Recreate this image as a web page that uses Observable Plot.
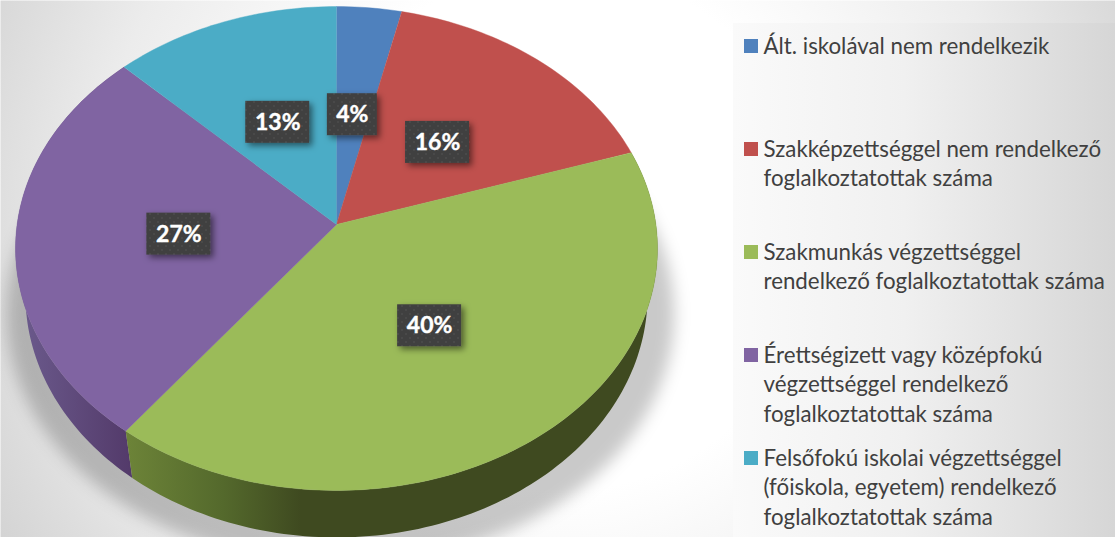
<!DOCTYPE html>
<html lang="hu">
<head>
<meta charset="utf-8">
<title>Foglalkoztatottak végzettség szerint</title>
<script src="https://cdn.jsdelivr.net/npm/d3@7"></script>
<script src="https://cdn.jsdelivr.net/npm/@observablehq/plot@0.6"></script>
<style>
  html, body { margin: 0; padding: 0; background: #fff; overflow: hidden; }
</style>
</head>
<body>
<div id="chart"></div>
<script>
// ---- data ----
const categories = [
  "Ált. iskolával nem rendelkezik",
  "Szakképzettséggel nem rendelkező\nfoglalkoztatottak száma",
  "Szakmunkás végzettséggel\nrendelkező foglalkoztatottak száma",
  "Érettségizett vagy középfokú\nvégzettséggel rendelkező\nfoglalkoztatottak száma",
  "Felsőfokú iskolai végzettséggel\n(főiskola, egyetem) rendelkező\nfoglalkoztatottak száma"
];
const shares = [3.6, 16.4, 40.4, 27.0, 12.6];
const shareLabels = ["4%", "16%", "40%", "27%", "13%"];
const colors = ["#4f81bd", "#c0504d", "#9bbb59", "#8064a2", "#4bacc6"];
const legendRows = [46, 149, 252, 355, 458];

// ---- geometry: unit pie seen in perspective, in the x/y scales' units ----
const K = 0.0992, APEX = -0.0992, AX = 0.995, AY = 0.99;
const DEPTH = 0.194, BOTTOM_X = 0.969;
const turn = p => (p / 100) * 2 * Math.PI;
function project(pct, r = 1, sx = 1, dy = 0) {
  const X = r * Math.sin(turn(pct)), Y = -r * Math.cos(turn(pct)), w = 1 - K * Y;
  return {x: sx * AX * X / w, y: APEX + AY * Y / w + dy};
}
function arc(from, to, sx = 1, dy = 0) {
  const n = Math.max(2, Math.ceil((to - from) * 3)), pts = [];
  for (let i = 0; i <= n; ++i) pts.push(project(from + (to - from) * i / n, 1, sx, dy));
  return pts;
}
const px = v => (v - 336) / 321;
const py = v => (v - 248) / 242;

const ends = d3.cumsum(shares);
const slices = categories.flatMap((name, i) => {
  const a = i ? ends[i - 1] : 0, b = ends[i];
  return [project(0, 0), ...arc(a, b)].map(p => ({...p, name}));
});
const wall = i => {
  const a = ends[i - 1], b = ends[i];
  return [...arc(a, b), ...arc(a, b, BOTTOM_X, DEPTH).reverse()];
};
const shadow = arc(0, 100).map(p => ({x: p.x * 1.04 + 0.012, y: p.y * 1.035 + 0.27}));

const badges = categories.map((name, i) => {
  const a = i ? ends[i - 1] : 0, mid = (a + ends[i]) / 2;
  const p = project(mid, 0.49);
  return {
    x: p.x - 1 / 321, y: p.y + 1.5 / 242,
    label: shareLabels[i],
    hw: (shareLabels[i].length === 2 ? 25 : 32) / 321, hh: 21 / 242
  };
});
const legend = categories.map((name, i) => ({name, row: legendRows[i]}));

const chart = Plot.plot({
  width: 1115,
  height: 537,
  margin: 0,
  x: {domain: [-1, 1], range: [15, 657], axis: null},
  y: {domain: [-1, 1], range: [6, 490], axis: null},
  color: {domain: categories, range: colors},
  style: {background: "transparent", fontFamily: "Lato, sans-serif"},
  marks: [
    Plot.frame({fill: "url(#bg)", stroke: "none"}),
    Plot.rect([0], {x1: px(733), x2: px(1115), y1: py(23), y2: py(537), fill: "url(#panel)"}),
    Plot.line(shadow, {x: "x", y: "y", fill: "#000", fillOpacity: 0.21, stroke: "none", ariaDescription: "shadow"}),
    Plot.line(wall(3), {x: "x", y: "y", fill: "url(#wallPurple)", stroke: "none"}),
    Plot.line(wall(2), {x: "x", y: "y", fill: "url(#wallGreen)", stroke: "none"}),
    Plot.line(slices, {x: "x", y: "y", fill: "name", stroke: "name", strokeWidth: 0.4}),
    Plot.rect(badges, {
      x1: d => d.x - d.hw, x2: d => d.x + d.hw,
      y1: d => d.y - d.hh, y2: d => d.y + d.hh,
      fill: "url(#dots)", ariaDescription: "badges"
    }),
    Plot.text(badges, {x: "x", y: "y", text: "label", fill: "#fff", stroke: "#fff", strokeWidth: 0.4, fontWeight: 700, fontSize: 23, fontFamily: "Lato"}),
    Plot.rect(legend, {
      x1: px(744), x2: px(758),
      y1: d => py(d.row - 7), y2: d => py(d.row + 7),
      fill: "name"
    }),
    Plot.text(legend, {
      x: px(763), y: d => py(d.row - 13.5),
      text: "name", textAnchor: "start", lineAnchor: "top",
      fontSize: 22.3, lineHeight: 1.32, fill: "#404040", fontFamily: "Lato"
    })
  ]
});

const defs = d3.create("svg:defs");
const grad = (id, kind, attrs, stops) => {
  const g = defs.append(kind).attr("id", id).attr("gradientUnits", "userSpaceOnUse");
  Object.entries(attrs).forEach(([k, v]) => g.attr(k, v));
  stops.forEach(([o, c]) => g.append("stop").attr("offset", o).attr("stop-color", c));
};
grad("bg", "radialGradient", {cx: 560, cy: 230, r: 650},
  [[0, "#ffffff"], [0.4, "#ffffff"], [0.72, "#ececec"], [1, "#d2d2d2"]]);
grad("panel", "linearGradient", {x1: 733, y1: 0, x2: 1115, y2: 0},
  [[0, "#fafafa"], [0.45, "#f0f0f0"], [1, "#d6d6d6"]]);
grad("wallPurple", "linearGradient", {x1: 20, y1: 0, x2: 131, y2: 0},
  [[0, "#6b5a8c"], [1, "#533a6a"]]);
grad("wallGreen", "linearGradient", {x1: 128, y1: 0, x2: 300, y2: 0},
  [[0, "#6c8338"], [0.55, "#54692c"], [1, "#3f4a20"]]);
const dots = defs.append("pattern").attr("id", "dots").attr("patternUnits", "userSpaceOnUse")
  .attr("width", 8).attr("height", 8);
dots.append("rect").attr("width", 8).attr("height", 8).attr("fill", "#404040");
[[2, 2], [6, 6]].forEach(([x, y]) =>
  dots.append("circle").attr("cx", x).attr("cy", y).attr("r", 1).attr("fill", "#4d4d4d"));
defs.append("filter").attr("id", "blur").attr("filterUnits", "userSpaceOnUse")
  .attr("x", -60).attr("y", -60).attr("width", 900).attr("height", 700)
  .append("feGaussianBlur").attr("stdDeviation", 8);
defs.append("filter").attr("id", "drop").attr("filterUnits", "userSpaceOnUse")
  .attr("x", 0).attr("y", 0).attr("width", 1115).attr("height", 537)
  .append("feDropShadow").attr("dx", 3).attr("dy", 3).attr("stdDeviation", 3)
  .attr("flood-color", "#000").attr("flood-opacity", 0.5);
chart.insertBefore(defs.node(), chart.firstChild);
const byNote = note => chart.querySelector(`g[aria-description="${note}"]`);
byNote("shadow").setAttribute("filter", "url(#blur)");
byNote("badges").setAttribute("filter", "url(#drop)");
document.getElementById("chart").appendChild(chart);
</script>
</body>
</html>
